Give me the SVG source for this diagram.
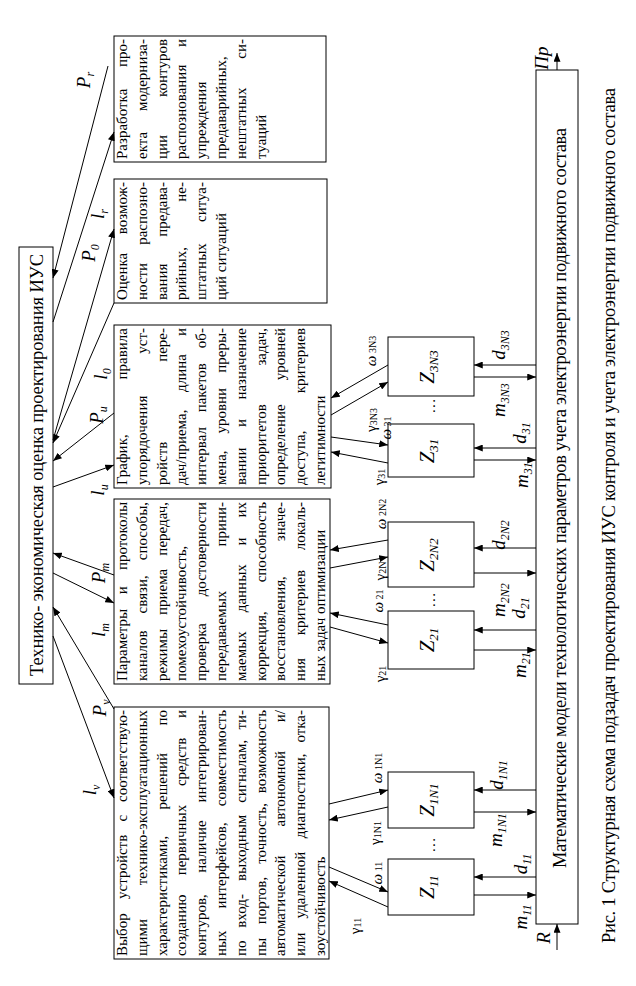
<svg xmlns="http://www.w3.org/2000/svg" width="636" height="986" viewBox="0 0 636 986">
<defs>
<style>
.bx{fill:#fff;stroke:#000;stroke-width:1}
.ln{stroke:#000;stroke-width:1;fill:none;marker-end:url(#ah)}
.t{font-family:"Liberation Serif","Times New Roman",serif;font-size:15px;fill:#000}
.e{text-anchor:end}
.big{font-family:"Liberation Serif","Times New Roman",serif;font-size:18.5px;fill:#000}
.lb{font-family:"Liberation Serif","Times New Roman",serif;font-style:italic;font-size:19px;fill:#000;text-anchor:middle}
.gl{font-family:"Liberation Serif","Times New Roman",serif;font-size:15px;fill:#000;text-anchor:middle}
.zl{font-family:"Liberation Serif","Times New Roman",serif;font-style:italic;font-size:21px;fill:#000;text-anchor:middle}
.dt{font-family:"Liberation Serif","Times New Roman",serif;font-size:15px;fill:#000;text-anchor:middle}
</style>
<marker id="ah" viewBox="0 0 10 8" refX="10" refY="4" markerWidth="9" markerHeight="7" orient="auto" markerUnits="userSpaceOnUse"><path d="M0,0L10,4L0,8z" fill="#000"/></marker>
</defs>
<rect width="636" height="986" fill="#fff"/>
<g transform="matrix(0,-1,1,0,0,986)">

<g id="top">
<rect class="bx" x="302" y="19" width="437" height="34"/>
<text class="big" x="310" y="43" textLength="422" lengthAdjust="spacing">Технико- экономическая оценка проектирования ИУС</text>
</g>

<g id="b5">
<rect class="bx" x="27" y="114" width="252" height="215"/>
<text class="t" y="127"><tspan x="30">Выбор</tspan><tspan x="87">устройств</tspan><tspan x="164.6">с</tspan></text>
<text class="t e" x="276" y="127">соответствую-</text>
<text class="t" x="30" y="146.8">щими</text>
<text class="t e" x="276" y="146.8">технико-эксплуатационных</text>
<text class="t" y="166.6"><tspan x="30">характеристиками,</tspan><tspan x="176.6">решений</tspan></text>
<text class="t e" x="276" y="166.6">по</text>
<text class="t" y="186.4"><tspan x="30">созданию</tspan><tspan x="110.7">первичных</tspan><tspan x="199.9">средств</tspan></text>
<text class="t e" x="276" y="186.4">и</text>
<text class="t" y="206.2"><tspan x="30">контуров,</tspan><tspan x="113.2">наличие</tspan></text>
<text class="t e" x="276" y="206.2">интегрирован-</text>
<text class="t" y="226"><tspan x="30">ных</tspan><tspan x="77.5">интерфейсов,</tspan></text>
<text class="t e" x="276" y="226">совместимость</text>
<text class="t" y="245.8"><tspan x="30">по</tspan><tspan x="58.2">вход-</tspan><tspan x="104.9">выходным</tspan><tspan x="183.2">сигналам,</tspan></text>
<text class="t e" x="276" y="245.8">ти-</text>
<text class="t" y="265.6"><tspan x="30">пы</tspan><tspan x="61.7">портов,</tspan><tspan x="122.2">точность,</tspan></text>
<text class="t e" x="276" y="265.6">возможность</text>
<text class="t" y="285.4"><tspan x="30">автоматической</tspan><tspan x="159.6">автономной</tspan></text>
<text class="t e" x="276" y="285.4">и/</text>
<text class="t" y="305.2"><tspan x="30">или</tspan><tspan x="67.6">удаленной</tspan><tspan x="147.8">диагностики,</tspan></text>
<text class="t e" x="276" y="305.2">отка-</text>
<text class="t" x="30" y="325">зоустойчивость</text>
</g>

<g id="b4">
<rect class="bx" x="302" y="114" width="185" height="216"/>
<text class="t" y="127"><tspan x="305">Параметры</tspan><tspan x="391.8">и</tspan></text>
<text class="t e" x="484" y="127">протоколы</text>
<text class="t" y="146.8"><tspan x="305">каналов</tspan><tspan x="372.6">связи,</tspan></text>
<text class="t e" x="484" y="146.8">способы,</text>
<text class="t" y="166.6"><tspan x="305">режимы</tspan><tspan x="371">приема</tspan></text>
<text class="t e" x="484" y="166.6">передач,</text>
<text class="t" x="305" y="186.4">помехоустойчивость,</text>
<text class="t" x="305" y="206.2">проверка</text>
<text class="t e" x="484" y="206.2">достоверности</text>
<text class="t" x="305" y="226">передаваемых</text>
<text class="t e" x="484" y="226">прини-</text>
<text class="t" y="245.8"><tspan x="305">маемых</tspan><tspan x="373.8">данных</tspan><tspan x="440.6">и</tspan></text>
<text class="t e" x="484" y="245.8">их</text>
<text class="t" x="305" y="265.6">коррекция,</text>
<text class="t e" x="484" y="265.6">способность</text>
<text class="t" x="305" y="285.4">восстановления,</text>
<text class="t e" x="484" y="285.4">значе-</text>
<text class="t" y="305.2"><tspan x="305">ния</tspan><tspan x="350.7">критериев</tspan></text>
<text class="t e" x="484" y="305.2">локаль-</text>
<text class="t" x="305" y="325">ных задач оптимизации</text>
</g>

<g id="b3">
<rect class="bx" x="498" y="114" width="163" height="217"/>
<text class="t" x="501" y="127">График,</text>
<text class="t e" x="658" y="127">правила</text>
<text class="t" x="501" y="146.8">упорядочения</text>
<text class="t e" x="658" y="146.8">уст-</text>
<text class="t" x="501" y="166.6">ройств</text>
<text class="t e" x="658" y="166.6">пере-</text>
<text class="t" y="186.4"><tspan x="501">дач/приема,</tspan><tspan x="594.1">длина</tspan></text>
<text class="t e" x="658" y="186.4">и</text>
<text class="t" y="206.2"><tspan x="501">интервал</tspan><tspan x="573.7">пакетов</tspan></text>
<text class="t e" x="658" y="206.2">об-</text>
<text class="t" y="226"><tspan x="501">мена,</tspan><tspan x="552.5">уровни</tspan></text>
<text class="t e" x="658" y="226">преры-</text>
<text class="t" y="245.8"><tspan x="501">вании</tspan><tspan x="559">и</tspan></text>
<text class="t e" x="658" y="245.8">назначение</text>
<text class="t" x="501" y="265.6">приоритетов</text>
<text class="t e" x="658" y="265.6">задач,</text>
<text class="t" x="501" y="285.4">определение</text>
<text class="t e" x="658" y="285.4">уровней</text>
<text class="t" x="501" y="305.2">доступа,</text>
<text class="t e" x="658" y="305.2">критериев</text>
<text class="t" x="501" y="325">легитимности</text>
</g>

<g id="b2">
<rect class="bx" x="683" y="114" width="124" height="213"/>
<text class="t" x="686" y="127">Оценка</text>
<text class="t e" x="804" y="127">возмож-</text>
<text class="t" x="686" y="146.8">ности</text>
<text class="t e" x="804" y="146.8">распозно-</text>
<text class="t" x="686" y="166.6">вания</text>
<text class="t e" x="804" y="166.6">предава-</text>
<text class="t" x="686" y="186.4">рийных,</text>
<text class="t e" x="804" y="186.4">не-</text>
<text class="t" x="686" y="206.2">штатных</text>
<text class="t e" x="804" y="206.2">ситуа-</text>
<text class="t" x="686" y="226">ций ситуаций</text>
</g>

<g id="b1">
<rect class="bx" x="824" y="114" width="126" height="212"/>
<text class="t" x="827" y="127">Разработка</text>
<text class="t e" x="947" y="127">про-</text>
<text class="t" x="827" y="146.8">екта</text>
<text class="t e" x="947" y="146.8">модерниза-</text>
<text class="t" x="827" y="166.6">ции</text>
<text class="t e" x="947" y="166.6">контуров</text>
<text class="t" x="827" y="186.4">распознования</text>
<text class="t e" x="947" y="186.4">и</text>
<text class="t" x="827" y="206.2">упреждения</text>
<text class="t" x="827" y="226">предаварийных,</text>
<text class="t" x="827" y="245.8">нештатных</text>
<text class="t e" x="947" y="245.8">си-</text>
<text class="t" x="827" y="265.6">туаций</text>
</g>

<g id="z11"><rect class="bx" x="71" y="388" width="56" height="86"/><text class="zl" x="99" y="434">Z<tspan font-size="13" dy="4">11</tspan></text></g>
<g id="z1n1"><rect class="bx" x="158" y="388" width="56" height="86"/><text class="zl" x="186" y="434">Z<tspan font-size="13" dy="4">1N1</tspan></text></g>
<g id="z21"><rect class="bx" x="317" y="388" width="58" height="86"/><text class="zl" x="346" y="434">Z<tspan font-size="13" dy="4">21</tspan></text></g>
<g id="z2n2"><rect class="bx" x="399" y="388" width="65" height="86"/><text class="zl" x="431" y="434">Z<tspan font-size="13" dy="4">2N2</tspan></text></g>
<g id="z31"><rect class="bx" x="509" y="388" width="53" height="86"/><text class="zl" x="535" y="434">Z<tspan font-size="13" dy="4">31</tspan></text></g>
<g id="z3n3"><rect class="bx" x="590" y="388" width="59" height="86"/><text class="zl" x="619" y="434">Z<tspan font-size="13" dy="4">3N3</tspan></text></g>

<g id="bottom">
<rect class="bx" x="62" y="536" width="854" height="42"/>
<text class="big" x="118" y="566" textLength="740" lengthAdjust="spacing">Математические модели технологических параметров учета электроэнергии подвижного состава</text>
</g>

<g id="connectors">
<line class="ln" x1="920" y1="108" x2="708" y2="53"/>
<line class="ln" x1="664" y1="53" x2="854" y2="114"/>
<line class="ln" x1="546" y1="53" x2="757" y2="114"/>
<line class="ln" x1="683" y1="114" x2="543" y2="53"/>
<line class="ln" x1="573" y1="114" x2="525" y2="53"/>
<line class="ln" x1="499" y1="53" x2="521" y2="114"/>
<line class="ln" x1="411" y1="114" x2="433" y2="53"/>
<line class="ln" x1="413" y1="53" x2="383" y2="114"/>
<line class="ln" x1="277" y1="114" x2="379" y2="53"/>
<line class="ln" x1="350" y1="53" x2="188" y2="114"/>

<line class="ln" x1="119" y1="329" x2="94" y2="388"/>
<line class="ln" x1="79" y1="388" x2="105" y2="329"/>
<line class="ln" x1="182" y1="329" x2="196" y2="388"/>
<line class="ln" x1="179" y1="388" x2="166" y2="329"/>
<line class="ln" x1="361" y1="388" x2="373" y2="330"/>
<line class="ln" x1="359" y1="330" x2="343" y2="388"/>
<line class="ln" x1="446" y1="388" x2="436" y2="330"/>
<line class="ln" x1="418" y1="330" x2="429" y2="388"/>
<line class="ln" x1="549" y1="331" x2="541" y2="388"/>
<line class="ln" x1="523" y1="388" x2="534" y2="331"/>
<line class="ln" x1="621" y1="388" x2="588" y2="331"/>
<line class="ln" x1="571" y1="331" x2="604" y2="388"/>

<line class="ln" x1="109" y1="536" x2="109" y2="474"/>
<line class="ln" x1="91" y1="474" x2="91" y2="536"/>
<line class="ln" x1="196" y1="536" x2="196" y2="474"/>
<line class="ln" x1="174" y1="474" x2="174" y2="536"/>
<line class="ln" x1="356" y1="536" x2="356" y2="474"/>
<line class="ln" x1="336" y1="474" x2="336" y2="536"/>
<line class="ln" x1="438" y1="536" x2="438" y2="474"/>
<line class="ln" x1="413" y1="474" x2="413" y2="536"/>
<line class="ln" x1="538" y1="536" x2="538" y2="474"/>
<line class="ln" x1="526" y1="474" x2="526" y2="536"/>
<line class="ln" x1="621" y1="536" x2="621" y2="474"/>
<line class="ln" x1="609" y1="474" x2="609" y2="536"/>

<line class="ln" x1="36" y1="557" x2="62" y2="557"/>
<line class="ln" x1="916" y1="557" x2="933" y2="557"/>
</g>

<g id="labels">
<text class="lb" x="906" y="90">P<tspan font-size="12" dy="4">r</tspan></text>
<text class="lb" x="772" y="104">l<tspan font-size="12" dy="4">r</tspan></text>
<text class="lb" x="733" y="95">P<tspan font-size="12" dy="4">0</tspan></text>
<text class="lb" x="612" y="107">l<tspan font-size="12" dy="4">0</tspan></text>
<text class="lb" x="571" y="103">P<tspan font-size="12" dy="4">u</tspan></text>
<text class="lb" x="496" y="104">l<tspan font-size="12" dy="4">u</tspan></text>
<text class="lb" x="413" y="105">P<tspan font-size="12" dy="4">m</tspan></text>
<text class="lb" x="356" y="105">l<tspan font-size="12" dy="4">m</tspan></text>
<text class="lb" x="278" y="106">P<tspan font-size="12" dy="4">v</tspan></text>
<text class="lb" x="196" y="96">l<tspan font-size="12" dy="4">v</tspan></text>

<text class="gl" x="113" y="382"><tspan font-style="italic">ω</tspan><tspan font-size="10"> 11</tspan></text>
<text class="gl" x="60" y="360">γ<tspan font-size="10" dy="1">11</tspan></text>
<text class="gl" x="218" y="382"><tspan font-style="italic">ω</tspan><tspan font-size="10"> 1N1</tspan></text>
<text class="gl" x="153" y="380">γ<tspan font-size="10" dy="1">1N1</tspan></text>
<text class="gl" x="385" y="383"><tspan font-style="italic">ω</tspan><tspan font-size="10"> 21</tspan></text>
<text class="gl" x="312" y="385">γ<tspan font-size="10" dy="1">21</tspan></text>
<text class="gl" x="415" y="385">γ<tspan font-size="10" dy="1">2N</tspan></text>
<text class="gl" x="472" y="386"><tspan font-style="italic">ω</tspan><tspan font-size="10"> 2N2</tspan></text>
<text class="gl" x="566" y="376">γ<tspan font-size="10" dy="1">3N3</tspan></text>
<text class="gl" x="558" y="391"><tspan font-style="italic">ω</tspan><tspan font-size="10"> 31</tspan></text>
<text class="gl" x="509" y="384">γ<tspan font-size="10" dy="1">31</tspan></text>
<text class="gl" x="635" y="376"><tspan font-style="italic">ω</tspan><tspan font-size="10"> 3N3</tspan></text>

<text class="lb" x="122" y="527">d<tspan font-size="12" dy="4">11</tspan></text>
<text class="lb" x="69" y="527">m<tspan font-size="12" dy="4">11</tspan></text>
<text class="lb" x="211" y="503">d<tspan font-size="12" dy="4">1N1</tspan></text>
<text class="lb" x="156" y="502">m<tspan font-size="12" dy="4">1N1</tspan></text>
<text class="lb" x="378" y="525">d<tspan font-size="12" dy="4">21</tspan></text>
<text class="lb" x="321" y="526">m<tspan font-size="12" dy="4">21</tspan></text>
<text class="lb" x="386" y="505">m<tspan font-size="12" dy="4">2N2</tspan></text>
<text class="lb" x="451" y="505">d<tspan font-size="12" dy="4">2N2</tspan></text>
<text class="lb" x="553" y="526">d<tspan font-size="12" dy="4">31</tspan></text>
<text class="lb" x="511" y="528">m<tspan font-size="12" dy="4">31</tspan></text>
<text class="lb" x="641" y="505">d<tspan font-size="12" dy="4">3N3</tspan></text>
<text class="lb" x="586" y="505">m<tspan font-size="12" dy="4">3N3</tspan></text>

<text class="dt" x="141" y="435">…</text>
<text class="dt" x="386" y="435">…</text>
<text class="dt" x="580" y="435">…</text>

<text class="lb" x="48" y="550">R</text>
<text class="lb" x="928" y="548">Пр</text>
</g>

<text class="big" x="43" y="615" textLength="855" lengthAdjust="spacing">Рис. 1 Структурная схема подзадач проектирования ИУС контроля и учета электроэнергии подвижного состава</text>
</g>
</svg>
